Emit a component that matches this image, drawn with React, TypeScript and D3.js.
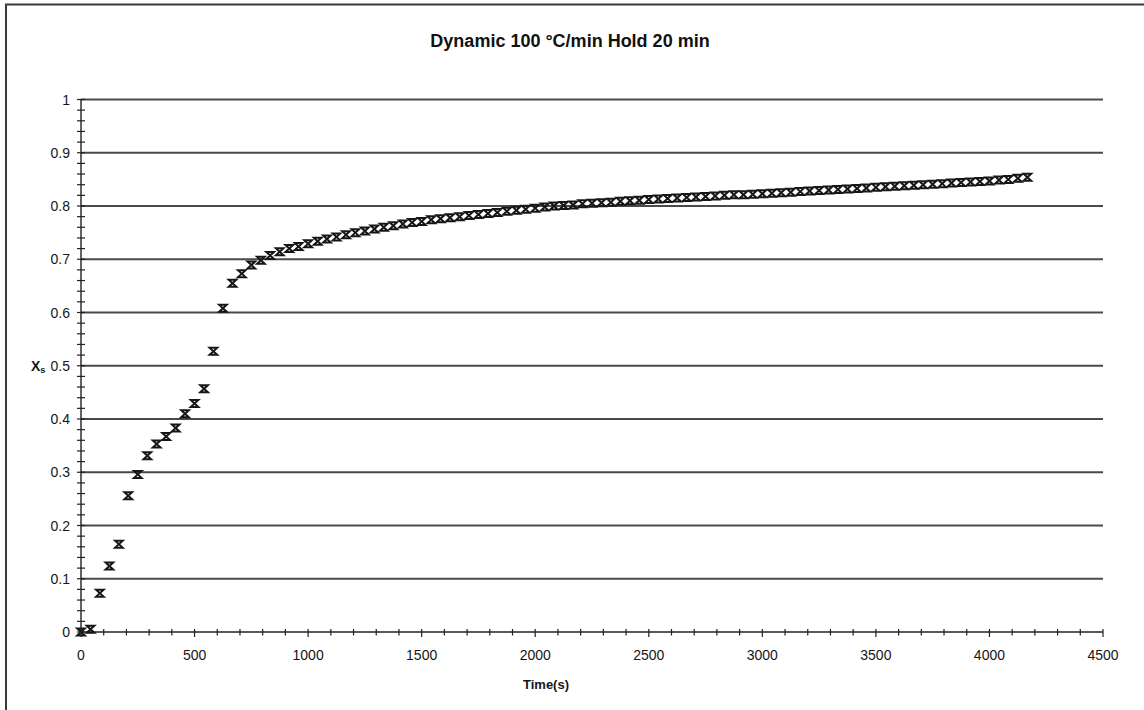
import React, { useEffect, useRef } from 'react';
import * as d3 from 'd3';

const W = 1144;
const H = 710;

const chartTitle = 'Dynamic 100 °C/min Hold 20 min';
const xAxisTitle = 'Time(s)';

// Time (s) of each sample
const timeS = [
  0, 42, 83, 125, 167, 208, 250, 292, 333, 375,
  417, 458, 500, 542, 583, 625, 667, 708, 750, 792,
  833, 875, 917, 958, 1000, 1042, 1083, 1125, 1167, 1208,
  1250, 1292, 1333, 1375, 1417, 1458, 1500, 1542, 1583, 1625,
  1667, 1708, 1750, 1792, 1833, 1875, 1917, 1958, 2000, 2042,
  2083, 2125, 2167, 2208, 2250, 2292, 2333, 2375, 2417, 2458,
  2500, 2542, 2583, 2625, 2667, 2708, 2750, 2792, 2833, 2875,
  2917, 2958, 3000, 3042, 3083, 3125, 3167, 3208, 3250, 3292,
  3333, 3375, 3417, 3458, 3500, 3542, 3583, 3625, 3667, 3708,
  3750, 3792, 3833, 3875, 3917, 3958, 4000, 4042, 4083, 4125,
  4167,
];

// Degree of conversion Xs
const xsValues = [
  0, 0.005, 0.073, 0.124, 0.165, 0.256, 0.296, 0.331, 0.353, 0.367,
  0.383, 0.41, 0.429, 0.457, 0.527, 0.608, 0.655, 0.673, 0.689, 0.698,
  0.707, 0.714, 0.72, 0.724, 0.729, 0.734, 0.738, 0.742, 0.746, 0.75,
  0.753, 0.757, 0.76, 0.763, 0.766, 0.769, 0.771, 0.774, 0.776, 0.778,
  0.78, 0.782, 0.784, 0.786, 0.788, 0.79, 0.792, 0.794, 0.796, 0.798,
  0.8, 0.801, 0.802, 0.804, 0.805, 0.806, 0.807, 0.809, 0.81, 0.811,
  0.812, 0.813, 0.814, 0.815, 0.816, 0.817, 0.818, 0.819, 0.82, 0.821,
  0.821, 0.822, 0.823, 0.824, 0.825, 0.826, 0.827, 0.828, 0.829, 0.83,
  0.831, 0.832, 0.833, 0.834, 0.835, 0.836, 0.837, 0.838, 0.839, 0.84,
  0.841, 0.842, 0.843, 0.844, 0.845, 0.846, 0.847, 0.849, 0.85, 0.852,
  0.854,
];

const yTickLabels = ['0', '0.1', '0.2', '0.3', '0.4', '0.5', '0.6', '0.7', '0.8', '0.9', '1'];
const xTickLabels = ['0', '500', '1000', '1500', '2000', '2500', '3000', '3500', '4000', '4500'];

const FONT = '"Liberation Sans", Arial, Helvetica, sans-serif';

export default function App() {
  const ref = useRef<SVGSVGElement>(null);

  useEffect(() => {
    const svg = d3.select(ref.current);
    svg.selectAll('*').remove();

    const x = d3.scaleLinear().domain([0, 4500]).range([81, 1103]);
    const y = d3.scaleLinear().domain([0, 1]).range([632, 99.5]);

    // outer frame
    svg.append('rect')
      .attr('x', 6).attr('y', 4.5)
      .attr('width', 1160).attr('height', 730)
      .attr('fill', '#fff')
      .attr('stroke', '#3a3a3a')
      .attr('stroke-width', 2);

    // title
    svg.append('text')
      .attr('x', 570).attr('y', 47)
      .attr('text-anchor', 'middle')
      .attr('font-family', FONT)
      .attr('font-weight', 'bold')
      .attr('font-size', 18)
      .attr('fill', '#111')
      .text(chartTitle);

    // gridlines
    const yMajors = yTickLabels.map((t) => +t);
    svg.append('g').selectAll('line')
      .data(yMajors.filter((v) => v > 0))
      .join('line')
      .attr('x1', x(0)).attr('x2', x(4500))
      .attr('y1', (d) => y(d)).attr('y2', (d) => y(d))
      .attr('stroke', '#4a4a4a')
      .attr('stroke-width', 1.8);

    // y axis
    const yMinor = d3.range(0, 1.0001, 0.02);
    const gy = svg.append('g');
    gy.append('line')
      .attr('x1', x(0)).attr('x2', x(0))
      .attr('y1', y(0)).attr('y2', y(1))
      .attr('stroke', '#222').attr('stroke-width', 1.4);
    gy.selectAll('line.minor')
      .data(yMinor)
      .join('line')
      .attr('class', 'minor')
      .attr('x1', x(0) - 4).attr('x2', x(0) + 4)
      .attr('y1', (d) => y(d)).attr('y2', (d) => y(d))
      .attr('stroke', '#222').attr('stroke-width', 1.2);
    gy.selectAll('text')
      .data(yTickLabels)
      .join('text')
      .attr('x', 70)
      .attr('y', (d) => y(+d) + 5)
      .attr('text-anchor', 'end')
      .attr('font-family', FONT)
      .attr('font-size', 14)
      .attr('fill', '#161616')
      .text((d) => d);

    // y axis title Xs
    const yt = svg.append('text')
      .attr('x', 31).attr('y', y(0.5) + 5)
      .attr('font-family', FONT)
      .attr('font-weight', 'bold')
      .attr('font-size', 14)
      .attr('fill', '#161616');
    yt.append('tspan').text('X');
    yt.append('tspan').attr('font-size', 9).attr('dy', 2).text('s');

    // x axis
    const xMinor = d3.range(0, 4501, 100);
    const gx = svg.append('g');
    gx.append('line')
      .attr('x1', x(0)).attr('x2', x(4500))
      .attr('y1', y(0)).attr('y2', y(0))
      .attr('stroke', '#222').attr('stroke-width', 1.4);
    gx.selectAll('line.minor')
      .data(xMinor)
      .join('line')
      .attr('class', 'minor')
      .attr('x1', (d) => x(d)).attr('x2', (d) => x(d))
      .attr('y1', y(0) - 3).attr('y2', (d) => y(0) + (d % 500 === 0 ? 5 : 3.5))
      .attr('stroke', '#222').attr('stroke-width', 1.2);
    gx.selectAll('text')
      .data(xTickLabels)
      .join('text')
      .attr('x', (d) => x(+d))
      .attr('y', 660)
      .attr('text-anchor', 'middle')
      .attr('font-family', FONT)
      .attr('font-size', 14)
      .attr('fill', '#161616')
      .text((d) => d);

    svg.append('text')
      .attr('x', 546).attr('y', 689)
      .attr('text-anchor', 'middle')
      .attr('font-family', FONT)
      .attr('font-weight', 'bold')
      .attr('font-size', 13)
      .attr('fill', '#161616')
      .text(xAxisTitle);

    // markers (hourglass x)
    const data = timeS.map((t, i) => ({ t, v: xsValues[i] }));
    svg.append('g').selectAll('path')
      .data(data)
      .join('path')
      .attr('transform', (d) => `translate(${x(d.t)},${y(d.v)})`)
      .attr('d', 'M-3.8,-3.5H3.8L-3.8,3.5H3.8Z')
      .attr('fill', 'none')
      .attr('stroke', '#161616')
      .attr('stroke-width', 2)
      .attr('stroke-linejoin', 'miter');
  }, []);

  return (
    <svg
      ref={ref}
      width={W}
      height={H}
      style={{ position: 'absolute', left: 0, top: 0, background: '#fff' }}
    />
  );
}
